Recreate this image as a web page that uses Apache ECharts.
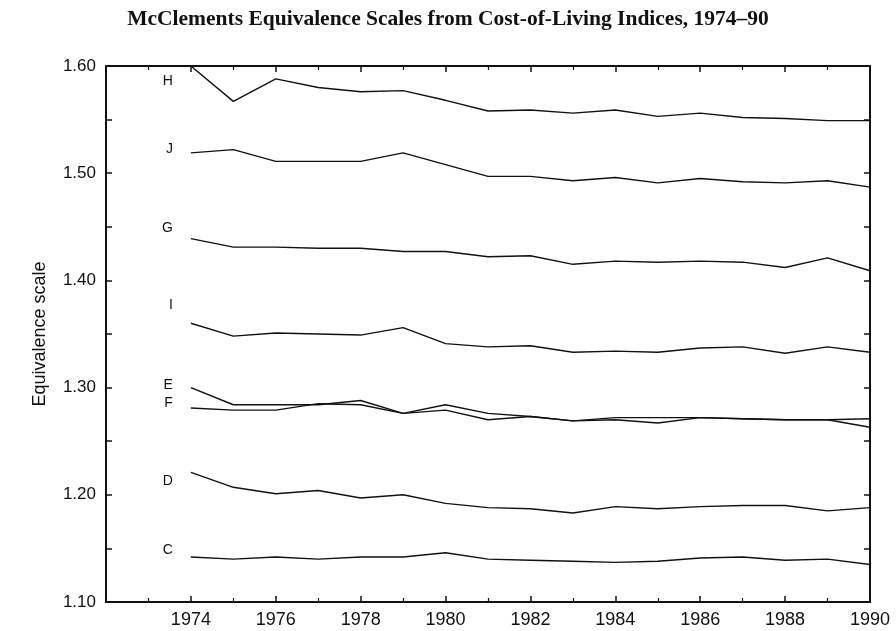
<!DOCTYPE html>
<html>
<head>
<meta charset="utf-8">
<script src="https://cdn.jsdelivr.net/npm/echarts@6/dist/echarts.min.js"></script>
<style>html,body{margin:0;padding:0;background:#fff}#c{width:896px;height:631px}</style>
</head>
<body>
<div id="c"></div>
<script>
const years = [1974,1975,1976,1977,1978,1979,1980,1981,1982,1983,1984,1985,1986,1987,1988,1989,1990];
const seriesNames = ['H','J','G','I','E','F','D','C'];
const H = [1.600,1.567,1.588,1.580,1.576,1.577,1.568,1.558,1.559,1.556,1.559,1.553,1.556,1.552,1.551,1.549,1.549];
const J = [1.519,1.522,1.511,1.511,1.511,1.519,1.508,1.497,1.497,1.493,1.496,1.491,1.495,1.492,1.491,1.493,1.487];
const G = [1.439,1.431,1.431,1.430,1.430,1.427,1.427,1.422,1.423,1.415,1.418,1.417,1.418,1.417,1.412,1.421,1.409];
const I = [1.360,1.348,1.351,1.350,1.349,1.356,1.341,1.338,1.339,1.333,1.334,1.333,1.337,1.338,1.332,1.338,1.333];
const E = [1.300,1.284,1.284,1.284,1.288,1.276,1.284,1.276,1.273,1.269,1.272,1.272,1.272,1.271,1.270,1.270,1.271];
const F = [1.281,1.279,1.279,1.285,1.284,1.276,1.279,1.270,1.273,1.269,1.270,1.267,1.272,1.271,1.270,1.270,1.263];
const D = [1.221,1.207,1.201,1.204,1.197,1.200,1.192,1.188,1.187,1.183,1.189,1.187,1.189,1.190,1.190,1.185,1.188];
const C = [1.142,1.140,1.142,1.140,1.142,1.142,1.146,1.140,1.139,1.138,1.137,1.138,1.141,1.142,1.139,1.140,1.135];
const seriesValues = [H,J,G,I,E,F,D,C];
const titleText = 'McClements Equivalence Scales from Cost-of-Living Indices, 1974–90';
const yAxisName = 'Equivalence scale';

// label vertical offsets (style)
const labelDy = {H:15,J:-4,G:-10,I:-18,E:-2,F:-5,D:9,C:-7};

const chart = echarts.init(document.getElementById('c'), null, {renderer:'canvas'});
const lineStyleAxis = {color:'#111', width:2};

const series = seriesNames.map((name, si) => ({
  name: name,
  type: 'line',
  xAxisIndex: 0, yAxisIndex: 0,
  symbol: 'circle',
  symbolSize: 0,
  showSymbol: true,
  smooth: false,
  lineStyle: {color:'#111', width:1.4},
  itemStyle: {color:'#111', opacity:0},
  label: {show:false},
  animation: false,
  data: years.map((yr, i) => {
    const item = {value:[yr, seriesValues[si][i]]};
    if (i === 0) {
      item.label = {show:true, position:'left', distance:18, offset:[0, labelDy[name]],
        formatter: name, fontFamily:'Liberation Sans', fontSize:14, color:'#111', opacity:1};
    }
    return item;
  })
}));

chart.setOption({
  animation:false,
  backgroundColor:'#fff',
  title:{text:titleText, left:'center', top:3,
    textStyle:{fontFamily:'Liberation Serif', fontWeight:'bold', fontSize:21.5, color:'#111'}},
  grid:{left:106, right:26, top:66, bottom:29},
  xAxis:[{
    type:'value', min:1972, max:1990, interval:2, position:'bottom',
    axisLine:{show:true, lineStyle:lineStyleAxis},
    axisTick:{show:true, inside:true, length:6, lineStyle:{color:'#111', width:1.5}},
    minorTick:{show:true, splitNumber:2, length:4, lineStyle:{color:'#111', width:1.2}},
    splitLine:{show:false},
    axisLabel:{fontFamily:'Liberation Sans', fontSize:18, color:'#111', margin:9,
      formatter: v => v <= 1972 ? '' : String(v)}
  },{
    type:'value', min:1972, max:1990, interval:2, position:'top',
    axisLine:{show:true, onZero:false, lineStyle:lineStyleAxis},
    axisTick:{show:true, inside:true, length:6, lineStyle:{color:'#111', width:1.5}},
    minorTick:{show:true, splitNumber:2, length:4, lineStyle:{color:'#111', width:1.2}},
    splitLine:{show:false},
    axisLabel:{show:false}
  }],
  yAxis:[{
    type:'value', min:1.10, max:1.60, interval:0.1, position:'left',
    name:yAxisName, nameLocation:'middle', nameGap:57, nameRotate:90,
    nameTextStyle:{fontFamily:'Liberation Sans', fontSize:18, color:'#111'},
    axisLine:{show:true, onZero:false, lineStyle:lineStyleAxis},
    axisTick:{show:true, inside:true, length:6, lineStyle:{color:'#111', width:1.5}},
    minorTick:{show:true, splitNumber:2, length:6, lineStyle:{color:'#111', width:1.5}},
    splitLine:{show:false},
    axisLabel:{fontFamily:'Liberation Sans', fontSize:17, color:'#111', margin:10,
      formatter: v => v.toFixed(2)}
  },{
    type:'value', min:1.10, max:1.60, interval:0.1, position:'right',
    axisLine:{show:true, onZero:false, lineStyle:lineStyleAxis},
    axisTick:{show:true, inside:true, length:6, lineStyle:{color:'#111', width:1.5}},
    minorTick:{show:true, splitNumber:2, length:6, lineStyle:{color:'#111', width:1.5}},
    splitLine:{show:false},
    axisLabel:{show:false}
  }],
  series: series
});
</script>
</body>
</html>
